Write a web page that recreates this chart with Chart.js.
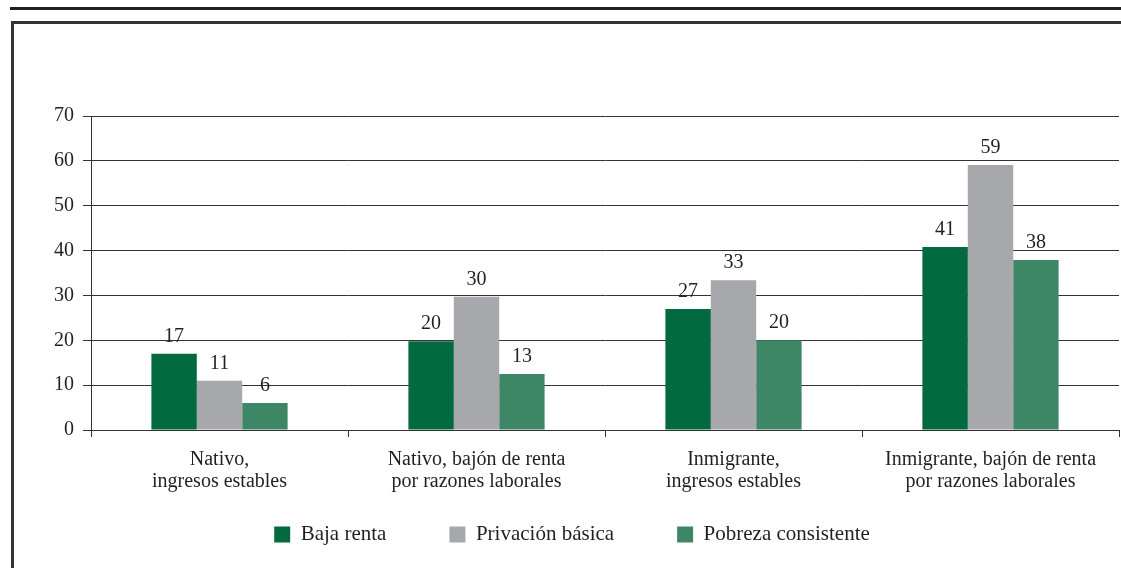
<!DOCTYPE html>
<html>
<head>
<meta charset="utf-8">
<script src="https://cdn.jsdelivr.net/npm/chart.js@4"></script>
<style>
    html, body { margin: 0; padding: 0; background: #fff; }
    #page { position: relative; width: 1121px; height: 568px; overflow: hidden; }
    #top-rule { position: absolute; left: 10px; top: 7px; width: 1111px; height: 3px; background: #231f20; }
    #frame { position: absolute; left: 11px; top: 21px; width: 1120px; height: 600px;
             border-left: 3px solid #333; border-top: 3px solid #333; }
    #chart-wrap { position: absolute; left: 0; top: 0; width: 1121px; height: 568px; }
</style>
</head>
<body>
<div id="page">
    <div id="top-rule"></div>
    <div id="frame"></div>
    <div id="chart-wrap"><canvas id="chart"></canvas></div>
</div>
<script>
// Categories and series
const categories = [
    ['Nativo,', 'ingresos estables'],
    ['Nativo, bajón de renta', 'por razones laborales'],
    ['Inmigrante,', 'ingresos estables'],
    ['Inmigrante, bajón de renta', 'por razones laborales']
];
const seriesNames = ['Baja renta', 'Privación básica', 'Pobreza consistente'];
const bajaRenta = [17, 19.8, 27, 40.8];
const privacionBasica = [11, 29.7, 33.4, 59.1];
const pobrezaConsistente = [6, 12.5, 20, 37.9];
// Printed labels above the bars
const bajaRentaLabels = ['17', '20', '27', '41'];
const privacionLabels = ['11', '30', '33', '59'];
const pobrezaLabels = ['6', '13', '20', '38'];
const yTicks = [0, 10, 20, 30, 40, 50, 60, 70];

const colors = ['#03693e', '#a7a8ab', '#3d8767'];
const textColor = '#231f20';

Chart.defaults.font.family = "'Liberation Serif', 'Times New Roman', serif";
Chart.defaults.font.size = 20;
Chart.defaults.color = textColor;

// Draw value labels above each bar
const barLabels = {
    id: 'barLabels',
    afterDatasetsDraw(chart) {
        const ctx = chart.ctx;
        ctx.save();
        ctx.font = "20px 'Liberation Serif', serif";
        ctx.fillStyle = textColor;
        ctx.textAlign = 'center';
        ctx.textBaseline = 'alphabetic';
        chart.data.datasets.forEach((ds, i) => {
            const meta = chart.getDatasetMeta(i);
            meta.data.forEach((bar, j) => {
                ctx.fillText(ds.valueLabels[j], bar.x, bar.y - 12);
            });
        });
        ctx.restore();
    }
};

// The x axis is kept short so the legend sits close; let its two-line labels show past it
const freeXLabels = {
    id: 'freeXLabels',
    afterLayout(chart) {
        chart.scales.x.bottom = chart.height;
    }
};

new Chart(document.getElementById('chart'), {
    type: 'bar',
    data: {
        labels: categories,
        datasets: [{
            label: seriesNames[0],
            data: bajaRenta,
            valueLabels: bajaRentaLabels,
            backgroundColor: colors[0]
        }, {
            label: seriesNames[1],
            data: privacionBasica,
            valueLabels: privacionLabels,
            backgroundColor: colors[1]
        }, {
            label: seriesNames[2],
            data: pobrezaConsistente,
            valueLabels: pobrezaLabels,
            backgroundColor: colors[2]
        }]
    },
    options: {
        responsive: true,
        maintainAspectRatio: false,
        animation: false,
        categoryPercentage: 0.53,
        barPercentage: 1,
        layout: {
            padding: { left: 25, right: 2, top: 116, bottom: 13 }
        },
        plugins: {
            tooltip: { enabled: false },
            legend: {
                position: 'bottom',
                labels: {
                    boxWidth: 16,
                    boxHeight: 16,
                    padding: 63,
                    color: textColor,
                    font: { size: 21 }
                }
            }
        },
        scales: {
            x: {
                afterFit: (scale) => { scale.height = 31; },
                grid: {
                    drawOnChartArea: false,
                    drawTicks: true,
                    tickLength: 7,
                    color: '#333'
                },
                border: { display: true, color: '#333', width: 1 },
                ticks: {
                    padding: 12,
                    color: textColor,
                    font: { size: 20, lineHeight: 1.1 },
                    maxRotation: 0,
                    autoSkip: false
                }
            },
            y: {
                min: 0,
                max: 70,
                afterFit: (scale) => { scale.width = 66; },
                afterBuildTicks: (scale) => { scale.ticks = yTicks.map(v => ({ value: v })); },
                grid: {
                    color: '#333',
                    lineWidth: 1,
                    tickLength: 8
                },
                border: { display: true, color: '#333', width: 1 },
                ticks: { padding: 9, color: textColor, font: { size: 20 } }
            }
        }
    },
    plugins: [barLabels, freeXLabels]
});
</script>
</body>
</html>
